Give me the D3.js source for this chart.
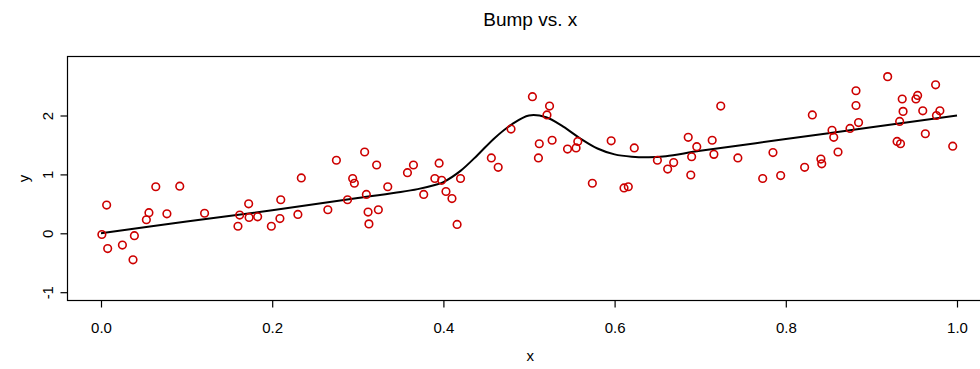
<!DOCTYPE html>
<html>
<head>
<meta charset="utf-8">
<script src="https://cdn.jsdelivr.net/npm/d3@7"></script>
<style>
  html, body { margin: 0; padding: 0; background: #fff; }
  svg { display: block; font-family: "Liberation Sans", Arial, Helvetica, sans-serif; }
</style>
</head>
<body>
<svg id="chart" width="980" height="369"></svg>
<script>
// Observed sample (x, y)
const pointX = [
  0.001, 0.0066, 0.0078, 0.025, 0.039, 0.0374, 0.053, 0.056, 0.064, 0.077, 0.092, 0.121,
  0.160, 0.162, 0.1725, 0.173, 0.183, 0.199, 0.209, 0.210, 0.230, 0.234, 0.265, 0.275,
  0.288, 0.294, 0.296, 0.308, 0.310, 0.312, 0.313, 0.322, 0.324, 0.335,
  0.358, 0.365, 0.377, 0.390, 0.395, 0.398, 0.403, 0.410, 0.416, 0.420, 0.456, 0.464,
  0.479, 0.504, 0.511, 0.512, 0.521, 0.524,
  0.527, 0.545, 0.555, 0.557, 0.574, 0.596, 0.611, 0.616, 0.623, 0.650, 0.662, 0.669,
  0.686, 0.689, 0.690, 0.696,
  0.714, 0.716, 0.724, 0.744, 0.773, 0.785, 0.794, 0.822, 0.831, 0.841, 0.842, 0.854,
  0.856, 0.861, 0.875, 0.882, 0.882, 0.885,
  0.919, 0.930, 0.934, 0.933, 0.936, 0.937, 0.952, 0.954, 0.960, 0.963, 0.975, 0.976,
  0.980, 0.995
];
const pointY = [
  -0.02, 0.48, -0.26, -0.20, -0.04, -0.45, 0.23, 0.35, 0.79, 0.33, 0.80, 0.34,
  0.12, 0.31, 0.50, 0.27, 0.28, 0.12, 0.25, 0.57, 0.32, 0.94, 0.40, 1.24,
  0.57, 0.93, 0.85, 1.38, 0.66, 0.36, 0.16, 1.16, 0.40, 0.79,
  1.03, 1.16, 0.66, 0.93, 1.19, 0.90, 0.71, 0.59, 0.15, 0.93, 1.28, 1.12,
  1.77, 2.32, 1.28, 1.52, 2.01, 2.16,
  1.58, 1.43, 1.45, 1.56, 0.85, 1.57, 0.77, 0.79, 1.45, 1.24, 1.09, 1.20,
  1.63, 0.99, 1.30, 1.47,
  1.58, 1.34, 2.16, 1.28, 0.93, 1.37, 0.98, 1.12, 2.01, 1.26, 1.18, 1.75,
  1.63, 1.38, 1.78, 2.42, 2.17, 1.88,
  2.66, 1.56, 1.52, 1.90, 2.28, 2.07, 2.28, 2.34, 2.08, 1.69, 2.52, 2.00,
  2.08, 1.48
];

// Fitted bump curve
const curveX = [0, 0.1, 0.2, 0.3, 0.35, 0.37, 0.39, 0.40, 0.42, 0.44, 0.46, 0.48, 0.50,
  0.52, 0.54, 0.56, 0.58, 0.60, 0.62, 0.64, 0.66, 0.70, 0.80, 0.90, 1.00];
const curveY = [0, 0.2, 0.39, 0.60, 0.70, 0.75, 0.82, 0.87, 1.06, 1.33, 1.62, 1.85, 2.00,
  1.97, 1.81, 1.61, 1.44, 1.34, 1.30, 1.29, 1.31, 1.40, 1.60, 1.80, 2.00];

const xTicks = [0, 0.2, 0.4, 0.6, 0.8, 1.0];
const yTicks = [-1, 0, 1, 2];

const titleText = "Bump vs. x";
const xLabel = "x";
const yLabel = "y";

const svg = d3.select("#chart");

// Plot region (box) in pixels; the right edge runs just past the canvas
const box = { left: 67.5, right: 987, top: 56.5, bottom: 300.5 };
const centreX = (box.left + box.right) / 2;

const x = d3.scaleLinear().domain([0, 1]).range([101, 957]);
const y = d3.scaleLinear().domain([0, 1]).range([233.3, 174.4]);

// Title
svg.append("text")
  .attr("x", centreX + 3)
  .attr("y", 26)
  .attr("text-anchor", "middle")
  .attr("font-size", 19)
  .attr("fill", "#000")
  .text(titleText);

// Clip the marks to the plotting box
svg.append("clipPath").attr("id", "plotclip")
  .append("rect")
  .attr("x", box.left).attr("y", box.top)
  .attr("width", box.right - box.left).attr("height", box.bottom - box.top);

const plot = svg.append("g").attr("clip-path", "url(#plotclip)");

// Fitted curve
plot.append("path")
  .datum(curveX.map((d, i) => [d, curveY[i]]))
  .attr("fill", "none")
  .attr("stroke", "#000")
  .attr("stroke-width", 2)
  .attr("stroke-linejoin", "round")
  .attr("d", d3.line().x(d => x(d[0])).y(d => y(d[1])).curve(d3.curveCatmullRom.alpha(0.5)));

// Points
plot.selectAll("circle.pt")
  .data(pointX.map((d, i) => [d, pointY[i]]))
  .join("circle")
  .attr("class", "pt")
  .attr("cx", d => x(d[0]))
  .attr("cy", d => y(d[1]))
  .attr("r", 3.8)
  .attr("fill", "none")
  .attr("stroke", "#CD0000")
  .attr("stroke-width", 1.6);

// Box
svg.append("rect")
  .attr("x", box.left).attr("y", box.top)
  .attr("width", box.right - box.left).attr("height", box.bottom - box.top)
  .attr("fill", "none").attr("stroke", "#000").attr("stroke-width", 1.2);

// Bottom axis
const xAxis = d3.axisBottom(x)
  .tickValues(xTicks)
  .tickSize(7)
  .tickPadding(15)
  .tickFormat(d3.format(".1f"));
const gx = svg.append("g")
  .attr("transform", `translate(0,${box.bottom})`)
  .call(xAxis);
gx.select(".domain").remove();
gx.selectAll(".tick line").attr("stroke", "#000").attr("stroke-width", 1.2);
gx.selectAll(".tick text")
  .attr("font-family", "Liberation Sans, Arial, sans-serif")
  .attr("font-size", 15)
  .attr("fill", "#000");

// Left axis (labels rotated, as drawn by R)
const yAxis = d3.axisLeft(y)
  .tickValues(yTicks)
  .tickSize(7)
  .tickFormat(d => String(d));
const gy = svg.append("g")
  .attr("transform", `translate(${box.left},0)`)
  .call(yAxis);
gy.select(".domain").remove();
gy.selectAll(".tick line").attr("stroke", "#000").attr("stroke-width", 1.2);
gy.selectAll(".tick text").remove();
gy.selectAll(".tick")
  .append("text")
  .attr("transform", "translate(-14.5,0) rotate(-90)")
  .attr("text-anchor", "middle")
  .attr("font-family", "Liberation Sans, Arial, sans-serif")
  .attr("font-size", 15)
  .attr("fill", "#000")
  .text(d => String(d));

// Axis titles
svg.append("text")
  .attr("x", centreX + 3)
  .attr("y", 361)
  .attr("text-anchor", "middle")
  .attr("font-size", 15)
  .attr("fill", "#000")
  .text(xLabel);

svg.append("text")
  .attr("transform", `translate(29,${(box.top + box.bottom) / 2}) rotate(-90)`)
  .attr("text-anchor", "middle")
  .attr("font-size", 15)
  .attr("fill", "#000")
  .text(yLabel);
</script>
</body>
</html>
